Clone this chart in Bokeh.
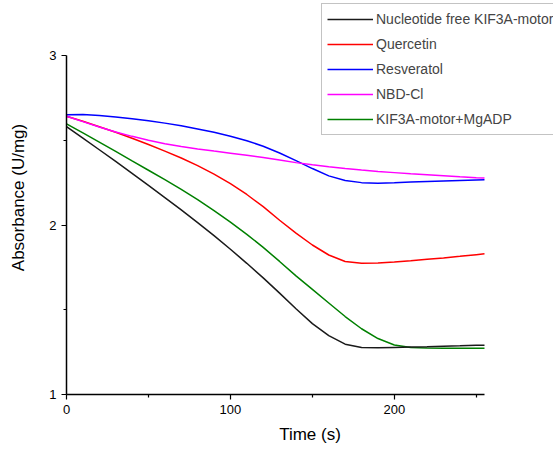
from bokeh.plotting import figure
from bokeh.models import Range1d, FixedTicker, Legend, LegendItem
from bokeh.embed import file_html
from bokeh.resources import INLINE

time_s = [0, 10, 20, 30, 40, 50, 60, 70, 80, 90, 100, 110, 120, 130, 140, 150,
          160, 170, 180, 190, 200, 210, 220, 230, 240, 250, 255]

free_motor = [2.58, 2.512, 2.444, 2.375, 2.305, 2.234, 2.162, 2.089, 2.014, 1.937, 1.857,
              1.774, 1.688, 1.598, 1.506, 1.418, 1.347, 1.297, 1.277, 1.276, 1.278, 1.28,
              1.282, 1.285, 1.287, 1.29, 1.291]
quercetin = [2.642, 2.612, 2.58, 2.547, 2.512, 2.475, 2.436, 2.395, 2.35, 2.30, 2.244,
             2.18, 2.108, 2.028, 1.952, 1.882, 1.823, 1.785, 1.775, 1.776, 1.781, 1.789,
             1.798, 1.806, 1.815, 1.825, 1.83]
resveratol = [2.65, 2.652, 2.646, 2.637, 2.627, 2.615, 2.601, 2.585, 2.567, 2.547, 2.524,
              2.497, 2.465, 2.425, 2.38, 2.333, 2.29, 2.262, 2.25, 2.247, 2.249, 2.253,
              2.257, 2.26, 2.263, 2.266, 2.267]
nbd_cl = [2.642, 2.61, 2.578, 2.549, 2.523, 2.50, 2.48, 2.463, 2.449, 2.436, 2.424,
          2.411, 2.398, 2.383, 2.368, 2.355, 2.343, 2.333, 2.324, 2.316, 2.309, 2.302,
          2.296, 2.29, 2.284, 2.279, 2.277]
mgadp = [2.597, 2.543, 2.489, 2.434, 2.378, 2.323, 2.268, 2.21, 2.15, 2.085, 2.017,
         1.945, 1.868, 1.785, 1.70, 1.62, 1.54, 1.46, 1.388, 1.33, 1.292, 1.277,
         1.274, 1.273, 1.273, 1.273, 1.273]

series_names = ["Nucleotide free KIF3A-motor", "Quercetin", "Resveratol", "NBD-Cl",
                "KIF3A-motor+MgADP"]
series_values = [free_motor, quercetin, resveratol, nbd_cl, mgadp]
series_colors = ["#1a1a1a", "#ff0000", "#0000ff", "#ff00ff", "#008000"]

x_ticks = [0, 100, 200]
x_minor = [50, 150, 250]
y_ticks = [1, 2, 3]
y_minor = [1.5, 2.5]
x_axis_bounds = (0, 255)
y_axis_bounds = (1, 3)

FONT = "Liberation Sans"

# The frame is widened to the canvas' right and top edges so that the legend,
# which sits partly above/right of the axes, is not clipped; axis bounds keep
# the drawn axes at the reference extent (x 0-255, y 1-3).
p = figure(width=553, height=452, output_backend="svg", toolbar_location=None,
           x_range=Range1d(0, 297.1), y_range=Range1d(1, 3.3245),
           min_border_left=66, min_border_right=0, min_border_top=0,
           min_border_bottom=58)
p.outline_line_color = None
p.grid.visible = False
p.background_fill_color = "white"
p.border_fill_color = "white"

renderers = {}
draw_order = [4, 1, 2, 3, 0]
for i in draw_order:
    r = p.line(time_s, series_values[i], line_color=series_colors[i], line_width=1.5)
    renderers[i] = r

items = [LegendItem(label=series_names[i], renderers=[renderers[i]]) for i in range(5)]
legend = Legend(items=items, location=(255, 259), padding=5, spacing=5,
                label_height=20, glyph_height=20, glyph_width=46, label_standoff=3,
                label_width=190,
                label_text_font=FONT, label_text_font_size="14px",
                border_line_color="#888888", border_line_width=1,
                background_fill_color="white", background_fill_alpha=1.0)
p.add_layout(legend, "center")

p.xaxis.ticker = FixedTicker(ticks=x_ticks, minor_ticks=x_minor)
p.yaxis.ticker = FixedTicker(ticks=y_ticks, minor_ticks=y_minor)
p.xaxis.bounds = x_axis_bounds
p.yaxis.bounds = y_axis_bounds
for ax in (p.xaxis, p.yaxis):
    ax.axis_line_color = "black"
    ax.axis_line_width = 1.5
    ax.major_tick_line_color = "black"
    ax.minor_tick_line_color = "black"
    ax.major_tick_line_width = 1.2
    ax.minor_tick_line_width = 1.2
    ax.major_tick_out = 5
    ax.major_tick_in = 0
    ax.minor_tick_out = 3
    ax.minor_tick_in = 0
    ax.major_label_text_font = FONT
    ax.major_label_text_font_size = "13px"
    ax.major_label_text_color = "black"
    ax.axis_label_text_font = FONT
    ax.axis_label_text_font_style = "normal"
    ax.axis_label_text_color = "black"

p.xaxis.axis_label = "Time (s)"
p.xaxis.axis_label_text_font_size = "17px"
p.xaxis.axis_label_standoff = 8
p.yaxis.axis_label = "Absorbance (U/mg)"
p.yaxis.axis_label_text_font_size = "17px"
p.yaxis.axis_label_standoff = 18

open("out.html", "w").write(file_html(p, INLINE))
